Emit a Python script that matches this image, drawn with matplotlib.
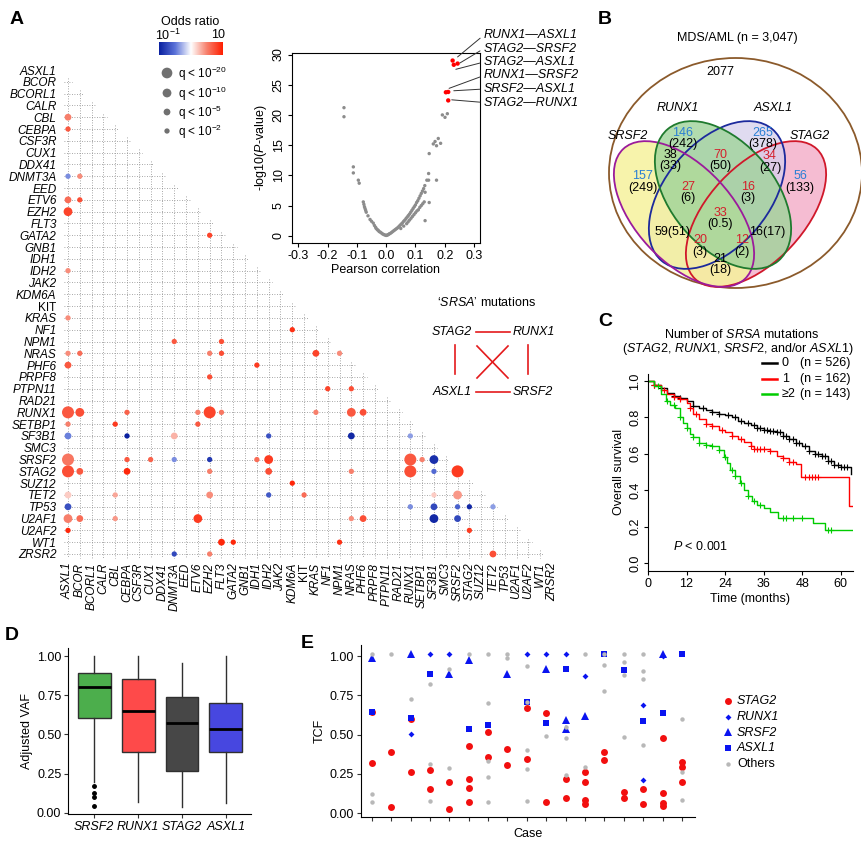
import numpy as np
import matplotlib
matplotlib.use('Agg')
import matplotlib.pyplot as plt
from matplotlib.patches import Ellipse
from matplotlib.colors import LinearSegmentedColormap, Normalize

plt.rcParams['font.family'] = ['Liberation Sans', 'DejaVu Sans']
plt.rcParams['mathtext.fontset'] = 'custom'
plt.rcParams['mathtext.rm'] = 'Liberation Sans'
plt.rcParams['mathtext.it'] = 'Liberation Sans:italic'
plt.rcParams['mathtext.bf'] = 'Liberation Sans:bold'
plt.rcParams['font.size'] = 9

# ---------------- data ----------------
genes = ['ASXL1', 'BCOR', 'BCORL1', 'CALR', 'CBL', 'CEBPA', 'CSF3R', 'CUX1', 'DDX41',
         'DNMT3A', 'EED', 'ETV6', 'EZH2', 'FLT3', 'GATA2', 'GNB1', 'IDH1', 'IDH2', 'JAK2',
         'KDM6A', 'KIT', 'KRAS', 'NF1', 'NPM1', 'NRAS', 'PHF6', 'PRPF8', 'PTPN11', 'RAD21',
         'RUNX1', 'SETBP1', 'SF3B1', 'SMC3', 'SRSF2', 'STAG2', 'SUZ12', 'TET2', 'TP53',
         'U2AF1', 'U2AF2', 'WT1', 'ZRSR2']

# (gene, gene, q level 1..4, log10 odds ratio)
pairs = [
    ('CBL', 'ASXL1', 2, 0.5), ('CEBPA', 'ASXL1', 1, 0.7), ('DNMT3A', 'ASXL1', 1, -0.4),
    ('DNMT3A', 'BCOR', 1, 0.45), ('ETV6', 'ASXL1', 2, 0.6), ('ETV6', 'BCOR', 1, 0.75),
    ('EZH2', 'ASXL1', 3, 0.8), ('GATA2', 'EZH2', 1, 0.8), ('IDH2', 'ASXL1', 1, 0.45),
    ('KRAS', 'ASXL1', 1, 0.45), ('NF1', 'KDM6A', 1, 0.9), ('NPM1', 'DNMT3A', 1, 0.7),
    ('NPM1', 'FLT3', 1, 0.75), ('NRAS', 'ASXL1', 1, 0.45), ('NRAS', 'BCOR', 1, 0.6),
    ('NRAS', 'EZH2', 1, 0.5), ('NRAS', 'FLT3', 1, 0.75), ('NRAS', 'KRAS', 2, 0.8),
    ('NRAS', 'NPM1', 1, 0.45), ('PHF6', 'ASXL1', 2, 0.7), ('PHF6', 'IDH1', 1, 0.85),
    ('PRPF8', 'EZH2', 1, 0.75), ('PTPN11', 'NF1', 1, 0.8), ('PTPN11', 'NRAS', 1, 0.75),
    ('RUNX1', 'ASXL1', 4, 0.7), ('RUNX1', 'BCOR', 3, 0.75), ('RUNX1', 'CEBPA', 1, 0.65),
    ('RUNX1', 'ETV6', 1, 0.5), ('RUNX1', 'EZH2', 4, 0.8), ('RUNX1', 'FLT3', 1, 0.55),
    ('RUNX1', 'KRAS', 1, 0.5), ('RUNX1', 'NRAS', 3, 0.7), ('RUNX1', 'PHF6', 2, 0.75),
    ('SETBP1', 'ASXL1', 1, 0.5), ('SETBP1', 'CBL', 1, 0.85), ('SETBP1', 'ETV6', 1, 0.7),
    ('SF3B1', 'ASXL1', 2, -0.45), ('SF3B1', 'CEBPA', 1, -1.0), ('SF3B1', 'DNMT3A', 2, 0.3),
    ('SF3B1', 'IDH2', 1, -0.7), ('SF3B1', 'NRAS', 2, -0.95), ('SF3B1', 'RUNX1', 1, -0.35),
    ('SRSF2', 'ASXL1', 4, 0.55), ('SRSF2', 'CEBPA', 1, 0.7), ('SRSF2', 'CUX1', 1, 0.65),
    ('SRSF2', 'DNMT3A', 1, -0.4), ('SRSF2', 'EZH2', 1, -0.85), ('SRSF2', 'IDH1', 1, 0.6),
    ('SRSF2', 'IDH2', 3, 0.85), ('SRSF2', 'RUNX1', 4, 0.7), ('SRSF2', 'SETBP1', 1, 0.5),
    ('SRSF2', 'SF3B1', 3, -0.9), ('STAG2', 'ASXL1', 4, 0.75), ('STAG2', 'BCOR', 2, 0.7),
    ('STAG2', 'CEBPA', 2, 0.95), ('STAG2', 'EZH2', 1, 0.5), ('STAG2', 'IDH2', 2, 0.75),
    ('STAG2', 'NRAS', 1, 0.5), ('STAG2', 'RUNX1', 4, 0.75), ('STAG2', 'SF3B1', 1, -0.55),
    ('STAG2', 'SRSF2', 4, 0.85), ('SUZ12', 'KDM6A', 1, 0.95), ('TET2', 'ASXL1', 2, 0.2),
    ('TET2', 'CBL', 1, 0.35), ('TET2', 'EZH2', 2, 0.45), ('TET2', 'IDH2', 1, -0.65),
    ('TET2', 'KIT', 1, 0.6), ('TET2', 'SF3B1', 1, 0.2), ('TET2', 'SRSF2', 3, 0.4),
    ('TP53', 'ASXL1', 2, -0.7), ('TP53', 'RUNX1', 1, -0.4), ('TP53', 'SF3B1', 2, -0.75),
    ('TP53', 'SRSF2', 1, -0.6), ('TP53', 'STAG2', 1, -0.95), ('TP53', 'TET2', 1, -0.35),
    ('U2AF1', 'ASXL1', 3, 0.5), ('U2AF1', 'BCOR', 2, 0.6), ('U2AF1', 'CBL', 1, 0.4),
    ('U2AF1', 'ETV6', 3, 0.85), ('U2AF1', 'NRAS', 1, 0.45), ('U2AF1', 'PHF6', 2, 0.75),
    ('U2AF1', 'SF3B1', 3, -0.95), ('U2AF1', 'SRSF2', 2, -0.75), ('U2AF2', 'ASXL1', 1, 0.95),
    ('U2AF2', 'STAG2', 1, 0.85), ('WT1', 'FLT3', 2, 0.95), ('WT1', 'GATA2', 1, 0.95),
    ('WT1', 'NPM1', 1, 0.9), ('ZRSR2', 'DNMT3A', 1, -0.75), ('ZRSR2', 'EZH2', 1, 0.5),
    ('ZRSR2', 'TET2', 2, 0.75),
]
q_labels = [r'q < 10$^{-20}$', r'q < 10$^{-10}$', r'q < 10$^{-5}$', r'q < 10$^{-2}$']

volcano_x = [-0.144, -0.144, -0.112, -0.112, -0.095, -0.092, -0.078, -0.076, -0.074, -0.072,
             -0.070, -0.068, -0.062, -0.055, -0.050, -0.044, -0.040, -0.036, -0.034, -0.030,
             -0.027, -0.024, -0.020, -0.016, -0.012, -0.008, -0.004, 0.0, 0.003, 0.006,
             0.009, 0.012, 0.016, 0.020, 0.024, 0.028, 0.032, 0.036, 0.040, 0.044,
             0.048, 0.052, 0.056, 0.060, 0.064, 0.068, 0.072, 0.076, 0.080, 0.084,
             0.088, 0.092, 0.096, 0.100, 0.104, 0.108, 0.112, 0.116, 0.120, 0.124,
             0.128, 0.132, 0.05, 0.06, 0.07, 0.08, 0.09, 0.10, 0.11, 0.12,
             0.13, 0.075, 0.085, 0.095, 0.105, 0.115, 0.125, 0.133, 0.147, 0.133,
             0.139, 0.145, 0.145, 0.147, 0.161, 0.167, 0.172, 0.178, 0.186, 0.172,
             0.192, 0.201, 0.209]
volcano_y = [21.2, 19.7, 11.4, 10.4, 9.2, 8.7, 5.6, 5.2, 4.8, 4.5,
             4.2, 3.9, 3.3, 2.7, 2.4, 2.1, 1.7, 1.4, 1.2, 1.0,
             0.9, 0.7, 0.6, 0.45, 0.3, 0.2, 0.12, 0.05, 0.1, 0.15,
             0.25, 0.35, 0.45, 0.6, 0.75, 0.9, 1.05, 1.2, 1.35, 1.55,
             1.75, 1.95, 2.15, 2.4, 2.6, 2.85, 3.1, 3.35, 3.6, 3.9,
             4.2, 4.5, 4.8, 5.1, 5.5, 5.8, 6.2, 6.6, 7.0, 7.4,
             7.8, 8.3, 1.2, 1.6, 2.0, 2.6, 3.2, 3.8, 4.3, 5.0,
             5.6, 2.3, 2.9, 3.5, 4.1, 4.7, 5.3, 2.5, 5.5, 7.2,
             9.2, 9.2, 10.3, 13.6, 15.2, 15.6, 14.9, 16.1, 15.3, 9.2,
             20.0, 19.6, 20.2]
top_pair_labels = ['RUNX1\u2014ASXL1', 'STAG2\u2014SRSF2', 'STAG2\u2014ASXL1',
                   'RUNX1\u2014SRSF2', 'SRSF2\u2014ASXL1', 'STAG2\u2014RUNX1']
top_pair_x = [0.227, 0.244, 0.231, 0.204, 0.212, 0.212]
top_pair_y = [29.0, 28.5, 28.3, 23.75, 23.8, 22.4]

venn_sets = ['SRSF2', 'RUNX1', 'ASXL1', 'STAG2']
venn_total = 'MDS/AML (n = 3,047)'
venn_none = 2077
# region: (observed, expected)
venn_counts = {
    'R': (146, '242'), 'A': (265, '378'), 'S': (157, '249'), 'G': (56, '133'),
    'SR': (38, '33'), 'RA': (70, '50'), 'AG': (34, '27'), 'SRA': (27, '6'),
    'RAG': (16, '3'), 'SRAG': (33, '0.5'), 'SA': (59, '51'), 'RG': (16, '17'),
    'SAG': (20, '3'), 'SRG': (12, '2'), 'SG': (21, '18'),
}

km_groups = ['0', '1', '\u22652']
km_n = [526, 162, 143]
km0_t = [0, 2, 4, 6, 8, 10, 12, 14, 16, 18, 20, 22, 24, 26, 28, 30, 32, 34, 36, 38, 40,
         42, 44, 46, 48, 50, 52, 54, 56, 58, 60, 63.3]
km0_s = [1.0, 0.98, 0.96, 0.935, 0.92, 0.905, 0.89, 0.865, 0.85, 0.84, 0.83, 0.82, 0.815,
         0.80, 0.78, 0.77, 0.76, 0.74, 0.73, 0.725, 0.72, 0.70, 0.68, 0.66, 0.64, 0.615,
         0.60, 0.59, 0.56, 0.54, 0.53, 0.49]
km1_t = [0, 2, 4, 6, 8, 10, 12, 13, 14, 16, 18, 20, 22, 24, 26, 28, 30, 32, 33, 38, 40,
         42, 44, 46, 47.5, 62.4, 63.6]
km1_s = [1.0, 0.98, 0.95, 0.93, 0.91, 0.90, 0.88, 0.85, 0.82, 0.79, 0.765, 0.75, 0.73,
         0.72, 0.70, 0.68, 0.665, 0.645, 0.625, 0.615, 0.59, 0.575, 0.555, 0.545, 0.474,
         0.314, 0.314]
km2_t = [0, 2, 4, 5.5, 7, 8.5, 10, 11, 12, 13, 14, 16, 18, 20, 22, 23.5, 24.5, 25.5, 27,
         28.5, 30, 31, 32.5, 34, 36, 38, 40.5, 51.5, 55, 63.6]
km2_s = [1.0, 0.97, 0.93, 0.89, 0.87, 0.85, 0.80, 0.77, 0.74, 0.71, 0.69, 0.66, 0.65, 0.64,
         0.62, 0.58, 0.55, 0.51, 0.48, 0.44, 0.40, 0.37, 0.34, 0.32, 0.30, 0.28, 0.247,
         0.219, 0.182, 0.182]
km0_cens = [2, 4, 8, 10, 14, 17, 20, 22, 25, 27, 29, 31, 33, 34, 35, 36, 37, 38, 39, 40, 41,
            42, 43, 44, 45, 46, 47, 49, 50, 52, 53, 54, 55, 56, 57, 58, 59, 60, 61, 62]
km1_cens = [2, 5, 8, 10, 13, 15, 18, 20, 23, 26, 29, 32, 33, 34, 35, 36, 38, 42, 44, 45,
            49, 50, 51, 52, 53]
km2_cens = [3, 6, 8, 10, 12, 14, 16, 18, 20, 22, 24, 26, 27, 29, 31, 33, 35, 42, 43, 45,
            48, 56, 57]

box_genes = ['SRSF2', 'RUNX1', 'STAG2', 'ASXL1']
box_low = [0.198, 0.066, 0.038, 0.06]
box_q1 = [0.606, 0.385, 0.268, 0.387]
box_med = [0.804, 0.651, 0.570, 0.534]
box_q3 = [0.889, 0.851, 0.736, 0.70]
box_high = [1.0, 1.0, 0.957, 1.0]
box_outliers = [[0.17, 0.128, 0.102, 0.045], [], [], []]

stag2_case = [1, 1, 2, 2, 3, 3, 4, 4, 5, 5, 6, 6, 6, 6, 7, 7, 8, 8, 9, 9, 10, 10, 11, 11,
              12, 12, 12, 12, 13, 13, 14, 14, 15, 15, 16, 16, 16, 16, 17, 17, 17]
stag2_tcf = [0.646, 0.318, 0.39, 0.038, 0.597, 0.26, 0.273, 0.155, 0.197, 0.03, 0.428,
             0.216, 0.163, 0.074, 0.515, 0.36, 0.41, 0.307, 0.667, 0.345, 0.64, 0.07,
             0.22, 0.095, 0.265, 0.2, 0.085, 0.06, 0.388, 0.337, 0.136, 0.097, 0.153,
             0.057, 0.481, 0.127, 0.066, 0.049, 0.324, 0.292, 0.197]
runx1_case = [3, 4, 5, 9, 10, 11, 12, 15, 15, 16]
runx1_tcf = [0.504, 1.01, 1.01, 1.01, 1.01, 1.01, 0.873, 0.686, 0.212, 1.0]
srsf2_case = [1, 3, 5, 6, 8, 10, 11, 11, 12, 16]
srsf2_tcf = [0.985, 1.01, 0.888, 0.975, 0.886, 0.915, 0.593, 0.534, 0.619, 1.013]
asxl1_case = [1, 3, 4, 6, 7, 9, 10, 11, 13, 14, 15, 16, 17]
asxl1_tcf = [0.642, 0.604, 0.888, 0.536, 0.559, 0.708, 0.572, 0.915, 1.01, 0.911, 0.589,
             0.64, 1.013]
others_case = [1, 1, 1, 2, 3, 4, 4, 4, 5, 5, 6, 7, 7, 7, 7, 7, 8, 8, 9, 9, 9, 9, 9, 10,
               11, 11, 11, 12, 12, 13, 13, 13, 14, 14, 14, 14, 15, 15, 15, 15, 17, 17, 17]
others_tcf = [1.013, 0.123, 0.07, 1.01, 0.727, 0.82, 0.311, 0.078, 0.915, 0.29, 1.01,
              1.01, 0.70, 0.333, 0.231, 0.07, 1.01, 0.99, 0.936, 0.705, 0.402, 0.28, 0.08,
              0.49, 0.55, 0.48, 0.244, 1.01, 0.292, 0.945, 0.778, 1.01, 1.01, 0.96, 0.879,
              0.483, 1.01, 0.907, 0.856, 0.434, 0.6, 0.26, 0.085]

# ---------------- figure ----------------
W, H = 862, 846
fig = plt.figure(figsize=(W / 100, H / 100), dpi=100)


def px_axes(left, top, right, bottom):
    return fig.add_axes([left / W, 1 - bottom / H, (right - left) / W, (bottom - top) / H])


cmap = LinearSegmentedColormap.from_list(
    'or', ['#0a20a0', '#5a72d8', '#ffffff', '#f7806c', '#ff1e00'])
norm = Normalize(-1, 1)
size_px = {1: 5.3, 2: 6.8, 3: 8.8, 4: 12.0}


def dot_s(level):
    return (size_px[level] * 0.72) ** 2


# ---- A: co-mutation matrix ----
n = len(genes)
gi = {g: i for i, g in enumerate(genes)}
mx = px_axes(62.1, 64.1, 557.9, 559.9)
mx.set_xlim(-0.5, n - 0.5)
mx.set_ylim(n - 0.5, -0.5)
mx.patch.set_alpha(0)
for s in mx.spines.values():
    s.set_visible(False)
for i in range(1, n):
    mx.plot([-0.35, i - 1 + 0.3], [i, i], ls=(0, (1, 2)), color='#8a8a8a', lw=0.6, zorder=1)
for j in range(n - 1):
    mx.plot([j, j], [j + 1 - 0.3, n - 1 + 0.35], ls=(0, (1, 2)), color='#8a8a8a', lw=0.6,
            zorder=1)
px_ = [gi[b] for a, b, q, v in pairs]
py_ = [gi[a] for a, b, q, v in pairs]
mx.scatter(px_, py_, s=[dot_s(q) for a, b, q, v in pairs], c=[v for a, b, q, v in pairs],
           cmap=cmap, norm=norm, edgecolors='none', zorder=3)
mx.set_xticks(range(n))
mx.set_xticklabels(genes, rotation=90, fontsize=8.5)
mx.set_yticks(range(n))
mx.set_yticklabels(genes, fontsize=8.5)
mx.tick_params(length=0, pad=2)
mx.tick_params(axis='y', pad=4)
for lab in mx.get_xticklabels() + mx.get_yticklabels():
    if lab.get_text() != 'KIT':
        lab.set_fontstyle('italic')

cax = px_axes(159, 42, 223, 55)
cax.imshow(np.linspace(-1, 1, 256)[None, :], aspect='auto', cmap=cmap, norm=norm)
cax.axis('off')

# ---- A: volcano ----
vax = px_axes(291.7, 53.3, 480, 242.7)
vax.scatter(volcano_x, volcano_y, s=6, color='#8c8c8c', edgecolors='none')
vax.scatter(top_pair_x, top_pair_y, s=10, color='#ff0000', edgecolors='none', zorder=3)
vax.set_xlim(-0.3225, 0.3205)
vax.set_ylim(-1.15, 30.2)
vax.set_xticks([-0.3, -0.2, -0.1, 0.0, 0.1, 0.2, 0.3])
vax.set_xticklabels(['-0.3', '-0.2', '-0.1', '0.0', '0.1', '0.2', '0.3'])
vax.set_yticks([0, 5, 10, 15, 20, 25, 30])
vax.tick_params(direction='out', length=3, labelsize=9, pad=2)
for lab in vax.get_yticklabels():
    lab.set_rotation(90)
    lab.set_va('center')
vax.set_xlabel('Pearson correlation', fontsize=9, labelpad=2)
vax.set_ylabel(r'-log10($\it{P}$-value)', fontsize=9, labelpad=3)

# ---- C: Kaplan-Meier ----
kax = px_axes(648, 373.7, 852.7, 570.8)
km_colors = ['black', '#ff0000', '#00cc00']
for t, sv, cens, col in [(km0_t, km0_s, km0_cens, km_colors[0]),
                         (km1_t, km1_s, km1_cens, km_colors[1]),
                         (km2_t, km2_s, km2_cens, km_colors[2])]:
    kax.step(t, sv, where='post', color=col, lw=1.0)
    idx = np.searchsorted(t, cens, side='right') - 1
    kax.plot(cens, np.array(sv)[idx], ls='none', marker='+', ms=4, mew=0.8, color=col)
kax.set_xlim(0, 63.7)
kax.set_ylim(-0.043, 1.04)
kax.set_xticks([0, 12, 24, 36, 48, 60])
kax.set_yticks([0.0, 0.2, 0.4, 0.6, 0.8, 1.0])
kax.set_yticklabels(['0.0', '0.2', '0.4', '0.6', '0.8', '1.0'], rotation=90, va='center')
kax.spines['top'].set_visible(False)
kax.spines['right'].set_visible(False)
kax.tick_params(direction='out', length=3, labelsize=9, pad=2)
kax.set_xlabel('Time (months)', fontsize=9, labelpad=2)
kax.set_ylabel('Overall survival', fontsize=9, labelpad=3)
kax.text(7.8, 0.088, r'$\it{P}$ < 0.001', fontsize=9, va='center')

# ---- D: box plot ----
bax = px_axes(68.3, 648.5, 250.7, 814)
stats = []
for k in range(len(box_genes)):
    stats.append(dict(med=box_med[k], q1=box_q1[k], q3=box_q3[k], whislo=box_low[k],
                      whishi=box_high[k], fliers=box_outliers[k], label=box_genes[k]))
bp = bax.bxp(stats, positions=range(1, 5), widths=0.75, patch_artist=True, showcaps=False,
             boxprops=dict(edgecolor='#303030', lw=1.0),
             whiskerprops=dict(color='#303030', lw=1.0),
             medianprops=dict(color='black', lw=2.0),
             flierprops=dict(marker='o', ms=2.5, mfc='black', mec='black'))
for patch, col in zip(bp['boxes'], ['#4cae4c', '#fe4a4a', '#474747', '#4747e0']):
    patch.set_facecolor(col)
bax.set_xlim(0.406, 4.57)
bax.set_ylim(-0.008, 1.048)
bax.set_yticks([0, 0.25, 0.5, 0.75, 1.0])
bax.set_yticklabels(['0.00', '0.25', '0.50', '0.75', '1.00'])
bax.set_xticks(range(1, 5))
bax.set_xticklabels(box_genes, fontstyle='italic')
bax.spines['top'].set_visible(False)
bax.spines['right'].set_visible(False)
bax.tick_params(direction='out', length=3, labelsize=9, pad=2, color='#333333')
bax.set_ylabel('Adjusted VAF', fontsize=9, labelpad=3)

# ---- E: TCF per case ----
eax = px_axes(360.7, 645, 695, 817.2)
eax.plot(stag2_case, stag2_tcf, ls='none', marker='o', ms=5, color='#f20f0f', mew=0)
eax.plot(asxl1_case, asxl1_tcf, ls='none', marker='s', ms=4.5, color='#0a14f0', mew=0)
eax.plot(srsf2_case, srsf2_tcf, ls='none', marker='^', ms=5.5, color='#0a14f0', mew=0)
eax.plot(runx1_case, runx1_tcf, ls='none', marker='D', ms=3, color='#0a14f0', mew=0)
eax.plot(others_case, others_tcf, ls='none', marker='o', ms=3.2, color='#b8b8b8', mew=0)
eax.set_xlim(0.43, 17.67)
eax.set_ylim(-0.025, 1.07)
eax.set_xticks(range(1, 18))
eax.set_xticklabels([])
eax.set_yticks([0, 0.25, 0.5, 0.75, 1.0])
eax.set_yticklabels(['0.00', '0.25', '0.50', '0.75', '1.00'])
eax.spines['top'].set_visible(False)
eax.spines['right'].set_visible(False)
eax.tick_params(direction='out', length=3, labelsize=9, pad=2, color='#333333')
eax.set_xlabel('Case', fontsize=9, labelpad=3)
eax.set_ylabel('TCF', fontsize=9, labelpad=3)

# ---------------- overlay (text, legends, diagrams) ----------------
ov = fig.add_axes([0, 0, 1, 1])
ov.set_xlim(0, W)
ov.set_ylim(H, 0)
ov.axis('off')
ov.patch.set_alpha(0)

for letter, x, y in [('A', 17, 20), ('B', 605, 20), ('C', 605, 322), ('D', 12, 636),
                     ('E', 307, 643)]:
    ov.text(x, y, letter, fontsize=14, fontweight='bold', ha='center', va='center')

# odds ratio legend
ov.text(190, 22, 'Odds ratio', ha='center', va='center', fontsize=9)
ov.text(168, 35, r'10$^{-1}$', ha='center', va='center', fontsize=9)
ov.text(218, 35, '10', ha='center', va='center', fontsize=9)
for k, (lev, yy) in enumerate(zip([4, 3, 2, 1], [73, 93, 112, 131])):
    ov.scatter([167], [yy], s=dot_s(lev) if lev < 4 else (10.7 * 0.72) ** 2,
               color='#707070', edgecolors='none')
    ov.text(178, yy + 1, q_labels[k], va='center', fontsize=8.5)

# volcano labels
for k, lab in enumerate(top_pair_labels):
    ty = 35 + k * 13.5
    line_end = [(0.244, 29.6), (0.252, 28.6), (0.238, 27.55), (0.215, 24.4),
                (0.231, 24.0), (0.224, 22.5)][k]
    vax.annotate(lab, xy=line_end, xycoords='data', xytext=(484, ty),
                 textcoords=ov.transData, ha='left', va='center', fontsize=9,
                 fontstyle='italic', annotation_clip=False,
                 arrowprops=dict(arrowstyle='-', lw=0.7, color='#333333', shrinkA=1,
                                 shrinkB=0, relpos=(0, 0.5)))

# SRSA diagram
red = '#e41a1c'
ov.text(486, 303, '\u2018$\\it{SRSA}$\u2019 mutations', ha='center', va='center', fontsize=9)
ov.text(472, 332, 'STAG2', ha='right', va='center', fontsize=9, fontstyle='italic')
ov.text(513, 332, 'RUNX1', ha='left', va='center', fontsize=9, fontstyle='italic')
ov.text(472, 392, 'ASXL1', ha='right', va='center', fontsize=9, fontstyle='italic')
ov.text(513, 392, 'SRSF2', ha='left', va='center', fontsize=9, fontstyle='italic')
for (x0, y0, x1, y1) in [(476, 332, 510, 332), (476, 392, 510, 392), (455, 345, 455, 374),
                         (528, 345, 528, 374), (477, 346, 508, 378), (477, 378, 508, 346)]:
    ov.plot([x0, x1], [y0, y1], color=red, lw=1.2)

# ---- B: Venn ----
ov.text(737, 38, venn_total, ha='center', va='center', fontsize=9)
ov.add_patch(Ellipse((735.5, 173), 253, 230, fill=False, ec='#8b5a2b', lw=1.3))
venn_geom = {'STAG2': ((756, 214), 178, 96, -47), 'ASXL1': ((717, 195), 172, 104, -50),
             'SRSF2': ((684, 214), 178, 96, 47), 'RUNX1': ((723, 195), 172, 104, 50)}
venn_fill = {'STAG2': ('#f5bcd2', 1.0), 'ASXL1': ('#d6d0ec', 0.75),
             'SRSF2': ('#f6f29c', 0.85), 'RUNX1': ('#9fd49a', 0.8)}
venn_edge = {'SRSF2': '#9b1b9b', 'RUNX1': '#1f7a2e', 'ASXL1': '#1c2a9c', 'STAG2': '#d0182a'}
for name in ['STAG2', 'ASXL1', 'SRSF2', 'RUNX1']:
    c, w, h, a = venn_geom[name]
    fc, al = venn_fill[name]
    ov.add_patch(Ellipse(c, w, h, angle=a, fc=fc, ec='none', alpha=al))
for name in ['STAG2', 'ASXL1', 'SRSF2', 'RUNX1']:
    c, w, h, a = venn_geom[name]
    ov.add_patch(Ellipse(c, w, h, angle=a, fill=False, ec=venn_edge[name], lw=1.3))
ov.text(720, 72, str(venn_none), ha='center', va='center', fontsize=9)
for name, (x, y) in {'RUNX1': (678, 108), 'ASXL1': (773, 108), 'SRSF2': (628, 136),
                     'STAG2': (810, 136)}.items():
    ov.text(x, y, name, ha='center', va='center', fontsize=9, fontstyle='italic')
blue_c, red_c = '#2a7fd4', '#d4202c'
venn_pos = {'R': (683, 133, blue_c), 'A': (763, 133, blue_c), 'S': (643, 176, blue_c),
            'G': (800, 176, blue_c), 'SR': (670, 155, 'black'), 'RA': (720, 155, red_c),
            'AG': (770, 156, red_c), 'SRA': (688, 187, red_c), 'RAG': (748, 187, red_c),
            'SRAG': (720, 213, red_c), 'SAG': (700, 240, red_c),
            'SRG': (742, 240, red_c), 'SG': (720, 259, 'black')}
for key, (obs, exp) in venn_counts.items():
    if key in ('SA', 'RG'):
        x, y = (673, 232) if key == 'SA' else (767, 232)
        ov.text(x, y, '%d(%s)' % (obs, exp), ha='center', va='center', fontsize=9)
        continue
    x, y, col = venn_pos[key]
    ov.text(x, y, str(obs), ha='center', va='center', fontsize=9, color=col)
    ov.text(x, y + 11.5, '(%s)' % exp, ha='center', va='center', fontsize=9)

# ---- C: title + legend ----
ov.text(742, 334, r'Number of $\it{SRSA}$ mutations', ha='center', va='center', fontsize=9)
ov.text(738, 349, r'($\it{STAG2}$, $\it{RUNX1}$, $\it{SRSF2}$, and/or $\it{ASXL1}$)',
        ha='center', va='center', fontsize=9)
for k, yy in enumerate([363, 379, 394]):
    ov.plot([762, 777], [yy, yy], color=km_colors[k], lw=1.8)
    ov.text(782, yy, km_groups[k], ha='left', va='center', fontsize=9)
    ov.text(800, yy, '(n = %d)' % km_n[k], ha='left', va='center', fontsize=9)

# ---- E: legend ----
leg_items = [('STAG2', 'o', 5, '#f20f0f'), ('RUNX1', 'D', 3, '#0a14f0'),
             ('SRSF2', '^', 5.5, '#0a14f0'), ('ASXL1', 's', 4.5, '#0a14f0'),
             ('Others', 'o', 3.2, '#b8b8b8')]
for k, (lab, mk, ms, col) in enumerate(leg_items):
    yy = 700.7 + k * 15.9
    ov.plot([728], [yy], marker=mk, ms=ms, color=col, mew=0, ls='none')
    ov.text(737, yy, lab, va='center', fontsize=9,
            fontstyle='normal' if lab == 'Others' else 'italic')

fig.savefig('out.png', dpi=100)
